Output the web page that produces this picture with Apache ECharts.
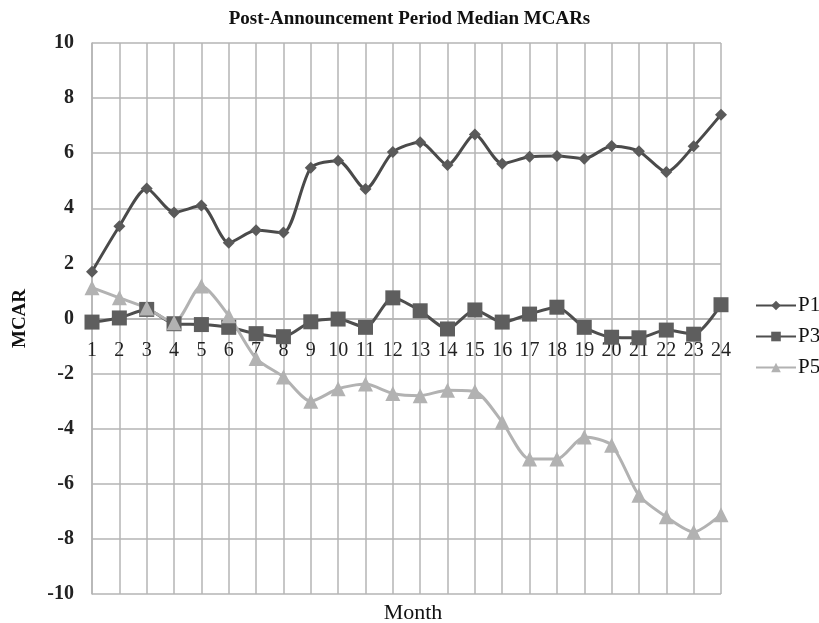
<!DOCTYPE html>
<html>
<head>
<meta charset="utf-8">
<script src="https://cdn.jsdelivr.net/npm/echarts@6/dist/echarts.min.js"></script>
<style>
  html, body { margin: 0; padding: 0; background: #fff; }
  #chart { width: 819px; height: 623px; }
</style>
</head>
<body>
<div id="chart"></div>
<script>
// months on the x axis
var months = ['1','2','3','4','5','6','7','8','9','10','11','12','13','14','15','16','17','18','19','20','21','22','23','24'];

// median MCAR values
var p1 = [1.7, 3.35, 4.72, 3.85, 4.1, 2.75, 3.2, 3.12, 5.47, 5.73, 4.7, 6.04, 6.4, 5.57, 6.68, 5.62, 5.87, 5.9, 5.8, 6.26, 6.07, 5.32, 6.25, 7.4];
var p3 = [-0.13, 0.02, 0.33, -0.19, -0.22, -0.32, -0.55, -0.66, -0.12, -0.02, -0.32, 0.75, 0.28, -0.38, 0.31, -0.13, 0.16, 0.41, -0.32, -0.68, -0.7, -0.42, -0.57, 0.5];
var p5 = [1.12, 0.75, 0.38, -0.15, 1.18, 0.1, -1.45, -2.12, -3.0, -2.55, -2.38, -2.72, -2.8, -2.6, -2.65, -3.76, -5.1, -5.1, -4.3, -4.6, -6.42, -7.2, -7.75, -7.12];

var serif = '"Liberation Serif", "DejaVu Serif", serif';

var chartobj = echarts.init(document.getElementById('chart'));

var option = {
    animation: false,
    backgroundColor: '#fff',
    title: [
        {
            text: 'Post-Announcement Period Median MCARs',
            left: 'center',
            top: 5,
            textStyle: {
                fontFamily: serif,
                fontSize: 19,
                fontWeight: 'bold',
                color: '#111'
            }
        },
        {
            // x axis name sits below the plot, not at the zero line
            text: 'Month',
            left: 408,
            top: 597,
            textAlign: 'center',
            textStyle: {
                fontFamily: serif,
                fontSize: 22,
                fontWeight: 'normal',
                color: '#111'
            }
        }
    ],
    legend: {
        orient: 'vertical',
        left: 750,
        top: 290,
        itemWidth: 40,
        itemHeight: 12,
        itemGap: 10,
        data: ['P1', 'P3', 'P5'],
        textStyle: {
            fontFamily: serif,
            fontSize: 21,
            color: '#111',
            padding: [0, 0, 0, -3]
        }
    },
    grid: {
        left: 92,
        right: 98,
        top: 43,
        bottom: 29,
        containLabel: false,
        outerBoundsMode: 'none'
    },
    xAxis: {
        type: 'category',
        data: months,
        boundaryGap: false,
        // month labels ride on the zero line (half the plot height up)
        offset: -275.5,
        axisLine: { show: true, onZero: false, lineStyle: { color: '#b5b5b5', width: 1.5 } },
        axisTick: { show: false },
        axisLabel: {
            fontFamily: serif,
            fontSize: 20,
            color: '#222',
            margin: 22,
            interval: 0
        },
        splitLine: { show: true, lineStyle: { color: '#b5b5b5', width: 1.5 } }
    },
    yAxis: {
        type: 'value',
        min: -10,
        max: 10,
        interval: 2,
        name: 'MCAR',
        nameLocation: 'middle',
        nameGap: 62,
        nameTextStyle: {
            fontFamily: serif,
            fontSize: 19,
            fontWeight: 'bold',
            color: '#111'
        },
        axisLine: { show: true, onZero: false, lineStyle: { color: '#b5b5b5', width: 1.5 } },
        axisTick: { show: false },
        axisLabel: {
            fontFamily: serif,
            fontSize: 20,
            fontWeight: 'bold',
            color: '#222',
            margin: 18
        },
        splitLine: { show: true, lineStyle: { color: '#b5b5b5', width: 1.5 } }
    },
    series: [
        {
            name: 'P1',
            type: 'line',
            data: p1,
            smooth: 0.25,
            symbol: 'diamond',
            symbolSize: 12,
            itemStyle: { color: '#5a5a5a' },
            lineStyle: { color: '#4a4a4a', width: 3 }
        },
        {
            name: 'P3',
            type: 'line',
            data: p3,
            smooth: 0.25,
            symbol: 'rect',
            symbolSize: 15,
            itemStyle: { color: '#5e5e5e' },
            lineStyle: { color: '#4e4e4e', width: 3 }
        },
        {
            name: 'P5',
            type: 'line',
            data: p5,
            smooth: 0.25,
            symbol: 'triangle',
            symbolSize: 15,
            itemStyle: { color: '#b2b2b2' },
            lineStyle: { color: '#b2b2b2', width: 3 }
        }
    ]
};

chartobj.setOption(option);
</script>
</body>
</html>
